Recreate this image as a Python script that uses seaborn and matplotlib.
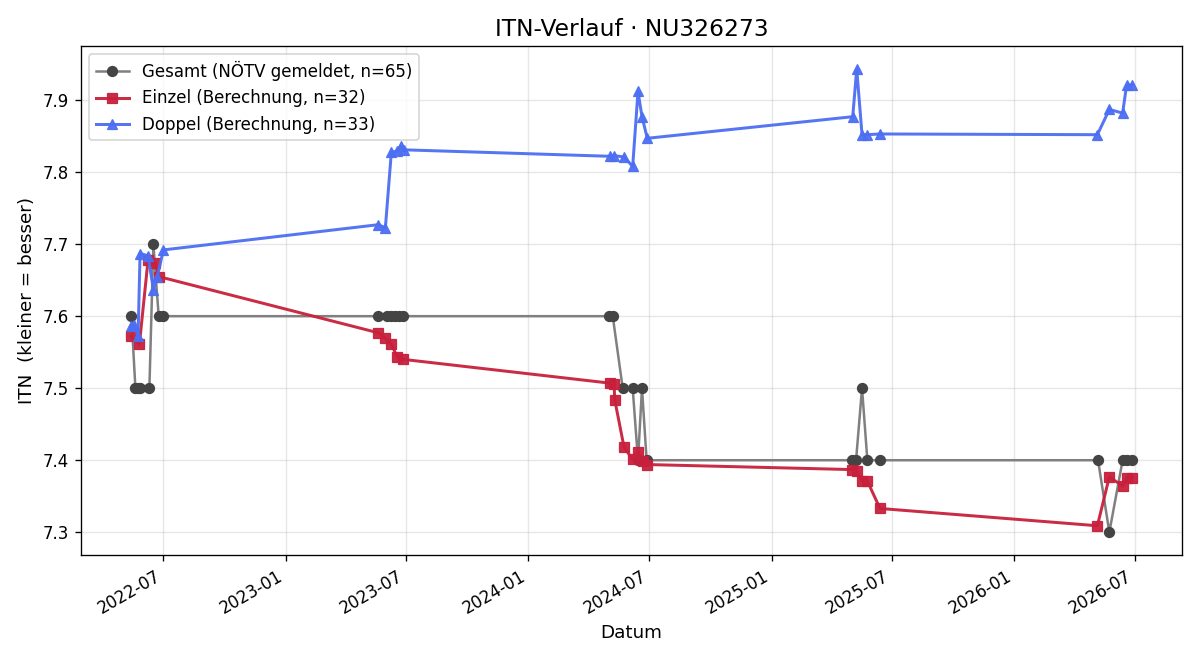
import seaborn as sns
import matplotlib.pyplot as plt
import matplotlib.dates as mdates
import pandas as pd

# Gesamt (NÖTV gemeldet)
gesamt_dates = ["2022-05-14", "2022-05-20", "2022-05-24", "2022-05-27", "2022-06-10", "2022-06-16",
                "2022-06-24", "2022-07-01", "2023-05-20", "2023-06-02", "2023-06-09", "2023-06-15",
                "2023-06-21", "2023-06-27", "2024-05-01", "2024-05-07", "2024-05-22", "2024-06-06",
                "2024-06-14", "2024-06-20", "2024-06-27", "2025-05-02", "2025-05-08", "2025-05-17",
                "2025-05-25", "2025-06-13", "2026-05-07", "2026-05-24", "2026-06-13", "2026-06-19",
                "2026-06-27"]
gesamt_itn = [7.6, 7.5, 7.5, 7.5, 7.5, 7.7,
              7.6, 7.6, 7.6, 7.6, 7.6, 7.6,
              7.6, 7.6, 7.6, 7.6, 7.5, 7.5,
              7.4, 7.5, 7.4, 7.4, 7.4, 7.5,
              7.4, 7.4, 7.4, 7.3, 7.4, 7.4,
              7.4]

# Einzel (Berechnung)
einzel_dates = ["2022-05-13", "2022-05-26", "2022-06-08", "2022-06-19", "2022-06-24",
                "2023-05-20", "2023-05-30", "2023-06-09", "2023-06-18", "2023-06-27",
                "2024-05-03", "2024-05-09", "2024-05-10", "2024-05-24", "2024-06-06",
                "2024-06-14", "2024-06-21", "2024-06-28",
                "2025-05-02", "2025-05-09", "2025-05-17", "2025-05-25", "2025-06-13",
                "2026-05-06", "2026-05-24", "2026-06-13", "2026-06-19", "2026-06-27"]
einzel_itn = [7.572, 7.561, 7.678, 7.674, 7.655,
              7.577, 7.570, 7.561, 7.543, 7.540,
              7.507, 7.506, 7.484, 7.418, 7.401,
              7.411, 7.399, 7.394,
              7.387, 7.385, 7.371, 7.371, 7.333,
              7.309, 7.377, 7.364, 7.376, 7.376]

# Doppel (Berechnung)
doppel_dates = ["2022-05-13", "2022-05-18", "2022-05-24", "2022-05-27", "2022-06-08", "2022-06-16",
                "2022-06-22", "2022-07-01",
                "2023-05-20", "2023-05-31", "2023-06-09", "2023-06-17", "2023-06-23", "2023-06-28",
                "2024-05-03", "2024-05-09", "2024-05-24", "2024-06-06", "2024-06-14", "2024-06-20",
                "2024-06-28",
                "2025-05-03", "2025-05-09", "2025-05-17", "2025-05-25", "2025-06-13",
                "2026-05-06", "2026-05-24", "2026-06-13", "2026-06-19", "2026-06-27"]
doppel_itn = [7.586, 7.588, 7.572, 7.687, 7.684, 7.637,
              7.655, 7.692,
              7.727, 7.723, 7.828, 7.829, 7.836, 7.831,
              7.822, 7.823, 7.821, 7.808, 7.912, 7.877,
              7.847,
              7.877, 7.943, 7.852, 7.852, 7.853,
              7.852, 7.887, 7.882, 7.921, 7.921]

fig, ax = plt.subplots(figsize=(10, 5.5), dpi=120)

sns.lineplot(x=pd.to_datetime(gesamt_dates), y=gesamt_itn, ax=ax, estimator=None,
             color="gray", marker="o", markersize=6, markerfacecolor="#444444",
             markeredgecolor="#444444", linewidth=1.5, label="Gesamt (NÖTV gemeldet, n=65)")
sns.lineplot(x=pd.to_datetime(einzel_dates), y=einzel_itn, ax=ax, estimator=None,
             color="#c8203c", marker="s", markersize=6.5, markeredgecolor="#c8203c",
             linewidth=1.8, alpha=0.95, label="Einzel (Berechnung, n=32)")
sns.lineplot(x=pd.to_datetime(doppel_dates), y=doppel_itn, ax=ax, estimator=None,
             color="#4c6ef2", marker="^", markersize=6.5, markeredgecolor="#4c6ef2",
             linewidth=1.8, alpha=0.95, label="Doppel (Berechnung, n=33)")

ax.set_title("ITN-Verlauf · NU326273", fontsize=14)
ax.set_xlabel("Datum", fontsize=11)
ax.set_ylabel("ITN  (kleiner = besser)", fontsize=11)
ax.xaxis.set_major_locator(mdates.MonthLocator(bymonth=[1, 7]))
ax.xaxis.set_major_formatter(mdates.DateFormatter("%Y-%m"))
ax.grid(True, alpha=0.3)
ax.legend(loc="upper left", fontsize=10)
fig.autofmt_xdate()
fig.tight_layout()
fig.savefig("out.png")
